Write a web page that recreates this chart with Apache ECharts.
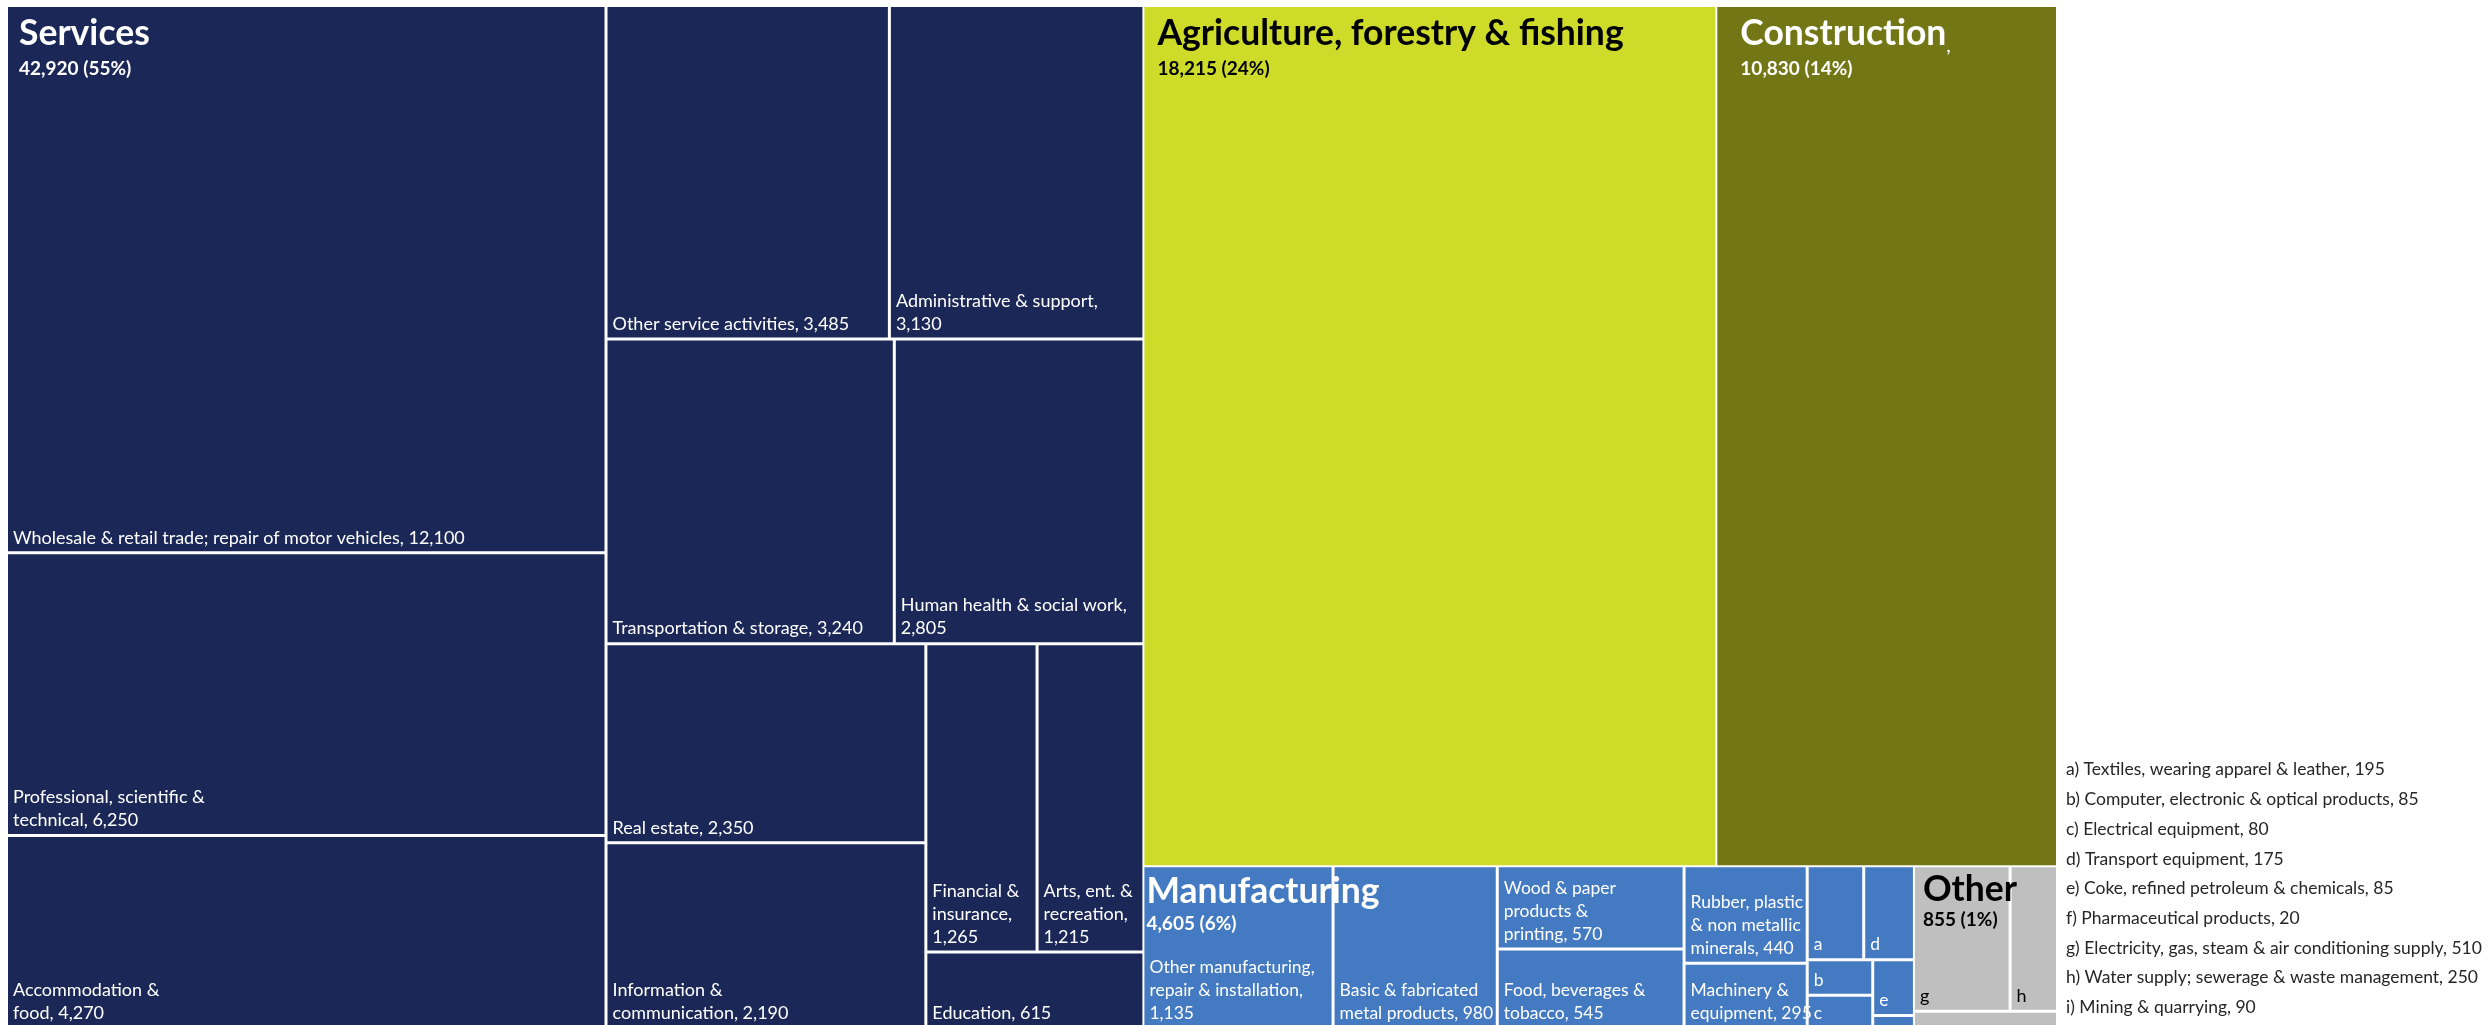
<!DOCTYPE html>
<html>
<head>
<meta charset="utf-8">
<script src="https://cdn.jsdelivr.net/npm/echarts@6/dist/echarts.min.js"></script>
<style>
  html, body { margin: 0; padding: 0; background: #ffffff; }
  #chart { width: 2489px; height: 1025px; }
</style>
</head>
<body>
<div id="chart"></div>
<script>
// ---- Data: persons employed by industry ----
const groupNames  = ['Services', 'Agriculture, forestry & fishing', 'Construction', 'Manufacturing', 'Other'];
const groupValues = [42920, 18215, 10830, 4605, 855];

const serviceNames = [
  'Wholesale & retail trade; repair of motor vehicles',
  'Professional, scientific & technical',
  'Accommodation & food',
  'Other service activities',
  'Administrative & support',
  'Transportation & storage',
  'Human health & social work',
  'Real estate',
  'Information & communication',
  'Financial & insurance',
  'Arts, ent. & recreation',
  'Education'
];
const serviceValues = [12100, 6250, 4270, 3485, 3130, 3240, 2805, 2350, 2190, 1265, 1215, 615];
// label text as printed in each cell ({v} = value)
const serviceLabels = [
  'Wholesale & retail trade; repair of motor vehicles, {v}',
  'Professional, scientific &\ntechnical, {v}',
  'Accommodation &\nfood, {v}',
  'Other service activities, {v}',
  'Administrative & support,\n{v}',
  'Transportation & storage, {v}',
  'Human health & social work,\n{v}',
  'Real estate, {v}',
  'Information &\ncommunication, {v}',
  'Financial &\ninsurance,\n{v}',
  'Arts, ent. &\nrecreation,\n{v}',
  'Education, {v}'
];

const manufNames = [
  'Other manufacturing, repair & installation',
  'Basic & fabricated metal products',
  'Wood & paper products & printing',
  'Food, beverages & tobacco',
  'Rubber, plastic & non metallic minerals',
  'Machinery & equipment',
  'Textiles, wearing apparel & leather',
  'Transport equipment',
  'Computer, electronic & optical products',
  'Electrical equipment',
  'Coke, refined petroleum & chemicals',
  'Pharmaceutical products'
];
const manufValues = [1135, 980, 570, 545, 440, 295, 195, 175, 85, 80, 85, 20];
const manufLabels = [
  'Other manufacturing,\nrepair & installation,\n{v}',
  'Basic & fabricated\nmetal products, {v}',
  'Wood & paper\nproducts &\nprinting, {v}',
  'Food, beverages &\ntobacco, {v}',
  'Rubber, plastic\n& non metallic\nminerals, {v}',
  'Machinery &\nequipment, {v}',
  'a', 'd', 'b', 'c', 'e', 'f'
];

const otherNames  = [
  'Electricity, gas, steam & air conditioning supply',
  'Water supply; sewerage & waste management',
  'Mining & quarrying'
];
const otherValues = [510, 250, 90];
const otherLabels = ['g', 'h', 'i'];

// ---- Helpers ----
const fmt = v => v.toLocaleString('en-US');
const total = groupValues.reduce((a, b) => a + b, 0);
const FONT = 'Lato';

const groupStyle = {
  'Services':                        { fill: '#1B2857', text: '#ffffff', leaf: 18,   pad: [5, 0, 0, 11], tl: 44, vl: 26 },
  'Agriculture, forestry & fishing': { fill: '#CEDB29', text: '#000000', leaf: 18,   pad: [5, 0, 0, 13], tl: 44, vl: 26 },
  'Construction':                    { fill: '#727615', text: '#ffffff', leaf: 18,   pad: [5, 0, 0, 23], tl: 44, vl: 26 },
  'Manufacturing':                   { fill: '#447AC1', text: '#ffffff', leaf: 17.5, pad: [2, 0, 0, 2],  tl: 44, vl: 22 },
  'Other':                           { fill: '#BFBFBF', text: '#000000', leaf: 18,   pad: [2, 0, 0, 8],  tl: 40, vl: 22 }
};

function leafItems(names, values, labels, st) {
  return names.map((n, i) => ({
    name: n,
    value: values[i],
    itemStyle: { color: st.fill },
    label: { formatter: labels[i].replace('{v}', fmt(values[i])), color: st.text, fontSize: st.leaf }
  }));
}

const childrenOf = {
  'Services': leafItems(serviceNames, serviceValues, serviceLabels, groupStyle['Services']),
  'Manufacturing': leafItems(manufNames, manufValues, manufLabels, groupStyle['Manufacturing']),
  'Other': leafItems(otherNames, otherValues, otherLabels, groupStyle['Other'])
};

// cells with their full names
const cellData = groupNames.map((g, i) => {
  const st = groupStyle[g];
  const item = { name: g, value: groupValues[i], itemStyle: { color: st.fill } };
  if (childrenOf[g]) item.children = childrenOf[g];
  else item.label = { show: false };
  return item;
});

// group headings drawn on a matching top-level layout
const headingData = groupNames.map((g, i) => {
  const st = groupStyle[g];
  const pct = Math.round(groupValues[i] / total * 100);
  const tail = g === 'Construction' ? '{c|,}' : '';
  return {
    name: g,
    value: groupValues[i],
    label: {
      color: st.text,
      padding: st.pad,
      formatter: '{t|' + g + '}' + tail + '\n{v|' + fmt(groupValues[i]) + ' (' + pct + '%)}',
      rich: {
        t: { fontFamily: FONT, fontWeight: 'bold', fontSize: 35.5, lineHeight: st.tl },
        c: { fontFamily: FONT, fontWeight: 'normal', fontSize: 20, lineHeight: 38, verticalAlign: 'bottom' },
        v: { fontFamily: FONT, fontWeight: 'bold', fontSize: 19, lineHeight: st.vl }
      }
    }
  };
});

// key for the lettered cells
const keyed = [];
manufLabels.forEach((l, i) => { if (l.length === 1) keyed.push([l, manufNames[i], manufValues[i]]); });
otherLabels.forEach((l, i) => keyed.push([l, otherNames[i], otherValues[i]]));
keyed.sort((a, b) => a[0].localeCompare(b[0]));
const keyLines = keyed.map(k => k[0] + ') ' + k[1] + ', ' + fmt(k[2]));

const box = { left: 8, top: 7, width: 2048, height: 1020 };
const transparent = 'rgba(0,0,0,0)';

const chart = echarts.init(document.getElementById('chart'), null, { renderer: 'canvas' });
chart.setOption({
  animation: false,
  series: [
    Object.assign({
      type: 'treemap',
      roam: false,
      nodeClick: false,
      sort: false,
      visibleMin: 0,
      breadcrumb: { show: false },
      label: {
        show: true,
        position: 'insideBottomLeft',
        fontFamily: FONT,
        fontSize: 18,
        lineHeight: 23,
        padding: [0, 0, 2, 5],
        overflow: 'none',
        color: '#ffffff'
      },
      upperLabel: { show: false },
      itemStyle: { borderWidth: 0, gapWidth: 0, borderColor: '#ffffff' },
      levels: [
        { itemStyle: { borderWidth: 0, gapWidth: 2, borderColor: '#ffffff' } },
        { itemStyle: { borderWidth: 0, gapWidth: 3, borderColor: '#ffffff' } },
        { itemStyle: { borderWidth: 0, gapWidth: 0 } }
      ],
      emphasis: { disabled: true },
      data: cellData
    }, box),
    Object.assign({
      type: 'treemap',
      z: 5,
      silent: true,
      roam: false,
      nodeClick: false,
      sort: false,
      visibleMin: 0,
      breadcrumb: { show: false },
      label: { show: true, position: 'insideTopLeft', overflow: 'none', fontFamily: FONT },
      itemStyle: { color: transparent, borderColor: transparent, borderWidth: 0, gapWidth: 0 },
      levels: [
        { color: [transparent], itemStyle: { borderWidth: 0, gapWidth: 2, borderColor: transparent } },
        { itemStyle: { color: transparent, borderColor: transparent, borderWidth: 0 } }
      ],
      emphasis: { disabled: true },
      data: headingData
    }, box)
  ],
  graphic: [{
    type: 'text',
    left: 2066,
    top: 755,
    silent: true,
    style: {
      text: keyLines.join('\n'),
      fontFamily: FONT,
      fontSize: 17.5,
      lineHeight: 29.7,
      fill: '#262626'
    }
  }]
});
</script>
</body>
</html>
